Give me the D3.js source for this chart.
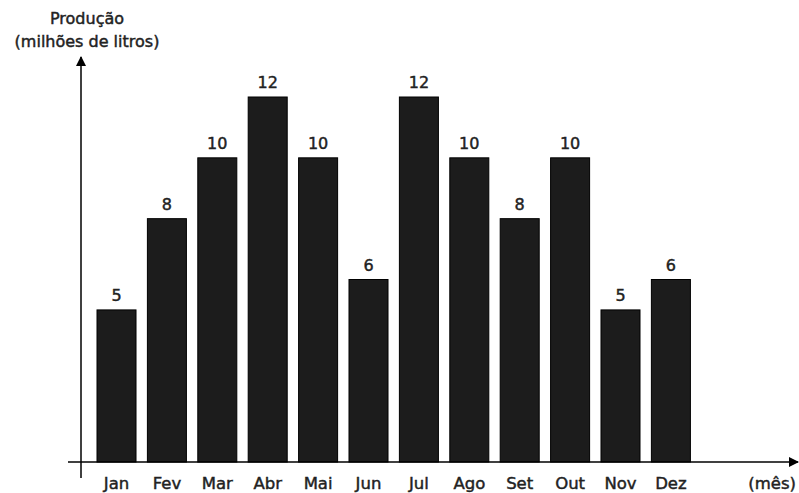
<!DOCTYPE html>
<html>
<head>
<meta charset="utf-8">
<script src="https://cdn.jsdelivr.net/npm/d3@7"></script>
<style>
  html, body { margin: 0; padding: 0; background: #fff; }
  svg { display: block; }
  text { font-family: "DejaVu Sans", Verdana, sans-serif; fill: #222; stroke: #222; stroke-width: 0.45px; }
</style>
</head>
<body>
<svg id="chart" width="799" height="493"></svg>
<script>
// Monthly production, millions of litres
const months = ["Jan", "Fev", "Mar", "Abr", "Mai", "Jun", "Jul", "Ago", "Set", "Out", "Nov", "Dez"];
const production = [5, 8, 10, 12, 10, 6, 12, 10, 8, 10, 5, 6];
const titleLines = ["Produção", "(milhões de litros)"];
const xAxisLabel = "(mês)";

const svg = d3.select("#chart");

const baseY = 462;
const axisX = 81;

const x = d3.scaleBand()
  .domain(months)
  .range([97, 690.4])
  .paddingInner(0.226)
  .paddingOuter(0);

const y = d3.scaleLinear()
  .domain([0, 12])
  .range([baseY, 97]);

// arrowhead marker
svg.append("defs").append("marker")
  .attr("id", "arrow")
  .attr("viewBox", "0 0 10 10")
  .attr("refX", 9).attr("refY", 5)
  .attr("markerWidth", 10).attr("markerHeight", 10)
  .attr("markerUnits", "userSpaceOnUse")
  .attr("orient", "auto")
  .append("path")
  .attr("d", "M0,0 L10,5 L0,10 Z")
  .attr("fill", "#000");

// bars
svg.append("g").selectAll("rect")
  .data(production)
  .join("rect")
  .attr("x", (d, i) => x(months[i]))
  .attr("y", d => y(d))
  .attr("width", x.bandwidth())
  .attr("height", d => baseY - y(d))
  .attr("fill", "#1c1c1c")
  .attr("stroke", "#000")
  .attr("stroke-width", 1);

// value labels
svg.append("g").selectAll("text")
  .data(production)
  .join("text")
  .attr("x", (d, i) => x(months[i]) + x.bandwidth() / 2)
  .attr("y", d => y(d) - 9)
  .attr("text-anchor", "middle")
  .attr("font-size", 16)
  .text(d => d);

// axes
svg.append("line")
  .attr("x1", 68).attr("y1", baseY)
  .attr("x2", 798).attr("y2", baseY)
  .attr("stroke", "#000").attr("stroke-width", 1.5)
  .attr("marker-end", "url(#arrow)");

svg.append("line")
  .attr("x1", axisX).attr("y1", 478)
  .attr("x2", axisX).attr("y2", 57)
  .attr("stroke", "#000").attr("stroke-width", 1.5)
  .attr("marker-end", "url(#arrow)");

// month labels
const xAxis = d3.axisBottom(x).tickSize(0).tickPadding(0);
const gx = svg.append("g")
  .attr("transform", `translate(0,${baseY})`)
  .call(xAxis);
gx.select(".domain").remove();
gx.selectAll("text")
  .attr("y", 27)
  .attr("dy", null)
  .attr("font-size", 16.5)
  .attr("font-family", "DejaVu Sans, sans-serif")
  .attr("fill", "#222");

svg.append("text")
  .attr("x", 796).attr("y", 489)
  .attr("text-anchor", "end")
  .attr("font-size", 16.5)
  .text(xAxisLabel);

// y title
svg.append("g").selectAll("text")
  .data(titleLines)
  .join("text")
  .attr("x", 87)
  .attr("y", (d, i) => 24 + i * 22.5)
  .attr("text-anchor", "middle")
  .attr("font-size", 16)
  .text(d => d);
</script>
</body>
</html>
